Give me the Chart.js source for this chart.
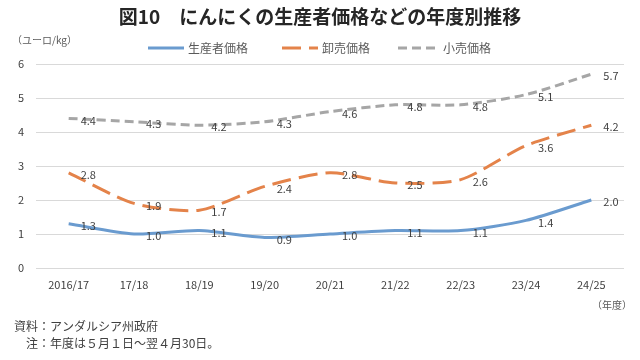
<!DOCTYPE html>
<html lang="ja">
<head>
<meta charset="utf-8">
<script src="https://cdn.jsdelivr.net/npm/chart.js@4"></script>
<style>
  html, body { margin: 0; padding: 0; background: #fff; }
  #wrap { width: 640px; height: 360px; position: relative; }
</style>
</head>
<body>
<div id="wrap"><canvas id="c" width="640" height="360"></canvas></div>
<script>
// データ
const years = ["2016/17", "17/18", "18/19", "19/20", "20/21", "21/22", "22/23", "23/24", "24/25"];
const producer  = [1.3, 1.0, 1.1, 0.9, 1.0, 1.1, 1.1, 1.4, 2.0];
const wholesale = [2.8, 1.9, 1.7, 2.4, 2.8, 2.5, 2.6, 3.6, 4.2];
const retail    = [4.4, 4.3, 4.2, 4.3, 4.6, 4.8, 4.8, 5.1, 5.7];
const seriesNames = ["生産者価格", "卸売価格", "小売価格"];
const yTicks = [0, 1, 2, 3, 4, 5, 6];

const FONT = "'Noto Sans CJK JP', 'Noto Sans', sans-serif";
const colors = ["#6a9bcf", "#e4834a", "#a6a6a6"];
const dashes = [[], [19, 8], [9, 5]];

// 表題・凡例・注記・データラベル
const extrasPlugin = {
  id: "extras",
  afterDatasetsDraw(chart) {
    const ctx = chart.ctx;
    ctx.save();
    // データラベル
    ctx.font = "11px " + FONT;
    ctx.fillStyle = "#404040";
    ctx.textAlign = "left";
    ctx.textBaseline = "middle";
    chart.data.datasets.forEach((ds, i) => {
      chart.getDatasetMeta(i).data.forEach((pt, j) => {
        ctx.fillText(ds.data[j].toFixed(1), pt.x + 12, pt.y + 2);
      });
    });
    ctx.restore();
  },
  afterDraw(chart) {
    const ctx = chart.ctx;
    ctx.save();
    // タイトル
    ctx.fillStyle = "#262626";
    ctx.font = "bold 19px " + FONT;
    ctx.textAlign = "center";
    ctx.textBaseline = "middle";
    ctx.fillText("図10　にんにくの生産者価格などの年度別推移", 320, 17);

    // 単位
    ctx.font = "10px " + FONT;
    ctx.fillStyle = "#595959";
    ctx.textAlign = "left";
    ctx.fillText("（ユーロ/kg）", 12, 40);

    // 凡例
    const legend = [
      { x1: 148, x2: 184, tx: 188 },
      { x1: 282, x2: 318, tx: 322 },
      { x1: 398, x2: 437, tx: 443 }
    ];
    legend.forEach((l, i) => {
      ctx.strokeStyle = colors[i];
      ctx.lineWidth = 3;
      ctx.setLineDash(dashes[i]);
      ctx.beginPath();
      ctx.moveTo(l.x1, 48);
      ctx.lineTo(l.x2, 48);
      ctx.stroke();
      ctx.setLineDash([]);
      ctx.fillStyle = "#595959";
      ctx.font = "12px " + FONT;
      ctx.fillText(seriesNames[i], l.tx, 48);
    });

    // 年度
    ctx.font = "10px " + FONT;
    ctx.textAlign = "right";
    ctx.fillText("（年度）", 632, 305);

    // 注記
    ctx.fillStyle = "#404040";
    ctx.font = "12px " + FONT;
    ctx.textAlign = "left";
    ctx.fillText("資料：アンダルシア州政府", 14, 326);
    ctx.fillText("注：年度は５月１日～翌４月30日。", 26, 343);
    ctx.restore();
  }
};

function makeSet(data, i) {
  return {
    label: seriesNames[i],
    data: data,
    borderColor: colors[i],
    backgroundColor: colors[i],
    borderWidth: 3,
    borderDash: dashes[i],
    borderCapStyle: "butt",
    pointRadius: 0,
    tension: 0.25,
    fill: false
  };
}

new Chart(document.getElementById("c"), {
  type: "line",
  data: {
    labels: years,
    datasets: [makeSet(producer, 0), makeSet(wholesale, 1), makeSet(retail, 2)]
  },
  options: {
    responsive: false,
    animation: false,
    layout: { padding: { top: 64, right: 16, left: 0, bottom: 0 } },
    plugins: {
      legend: { display: false },
      title: { display: false },
      tooltip: { enabled: false }
    },
    scales: {
      x: {
        offset: true,
        grid: { display: false, drawTicks: false },
        border: { display: false },
        ticks: { color: "#404040", font: { family: FONT, size: 11 }, padding: 10, maxRotation: 0 },
        afterFit(s) { s.height = 92; }
      },
      y: {
        min: 0,
        max: 6,
        afterBuildTicks(s) { s.ticks = yTicks.map(v => ({ value: v })); },
        grid: { color: "#d9d9d9", drawTicks: false },
        border: { display: false },
        ticks: { color: "#404040", font: { family: FONT, size: 11 }, padding: 12 },
        afterFit(s) { s.width = 36; }
      }
    }
  },
  plugins: [extrasPlugin]
});
</script>
</body>
</html>
